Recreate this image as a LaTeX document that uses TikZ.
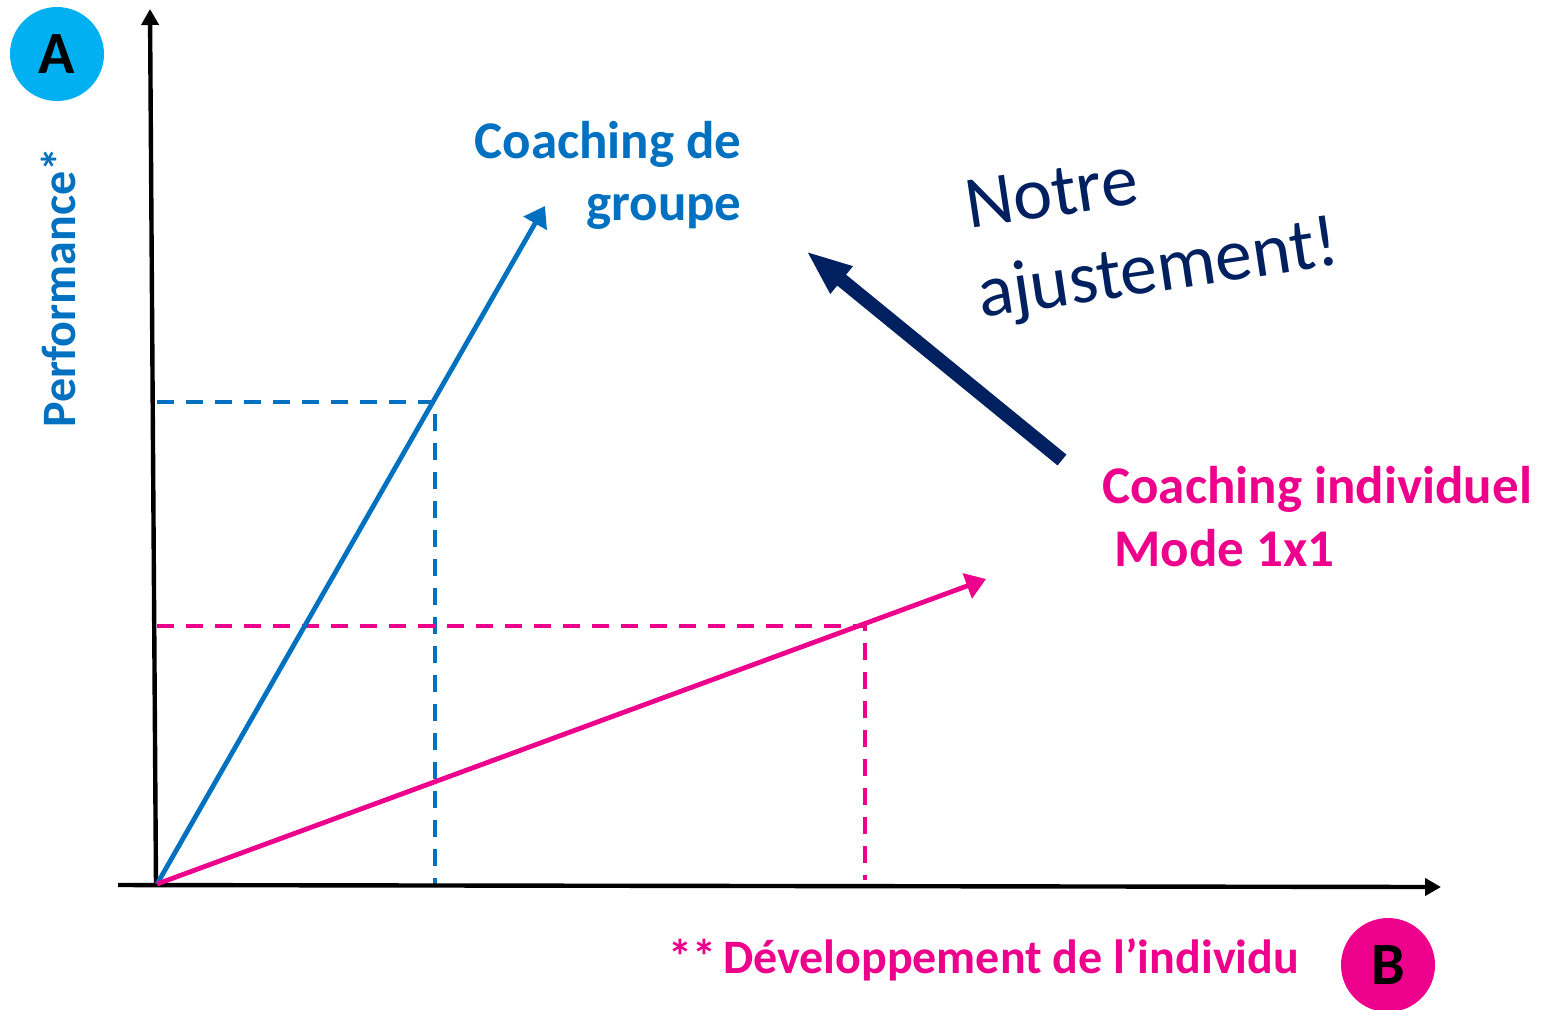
\documentclass[tikz,border=0pt]{standalone}
\usepackage{fontspec}
\setmainfont{Carlito}
\usetikzlibrary{arrows.meta}
\definecolor{cblue}{HTML}{0070C0}
\definecolor{cpink}{HTML}{EC008C}
\definecolor{cnavy}{HTML}{002060}
\definecolor{ccyan}{HTML}{00B0F0}
\tikzset{
  axis/.style={line width=2.2pt, black, -{Triangle[length=8pt,width=8.5pt]}},
  vec/.style={line width=2.4pt, -{Triangle[length=10pt,width=13pt]}},
  guide/.style={line width=1.7pt, dash pattern=on 8.5pt off 6pt},
  badge/.style={circle, minimum size=47pt, inner sep=0pt, font=\fontsize{30}{36}\selectfont\bfseries},
  lbl/.style={inner sep=0pt, font=\fontsize{26.5}{32}\selectfont\bfseries},
  notre/.style={inner sep=0pt, cnavy, anchor=base west, rotate=8.5, font=\fontsize{37}{44}\selectfont},
}
\begin{document}
\begin{tikzpicture}[x=0.5pt,y=-0.5pt]
\useasboundingbox (0,0) rectangle (1545,1009);
% coordinates
\coordinate (O) at (157,884);
\coordinate (ybot) at (156,885);
\coordinate (ytop) at (150,9);
\coordinate (xl) at (118,885);
\coordinate (xr) at (1441,887);
\coordinate (bt) at (545,206);
\coordinate (pt) at (986,579);
\coordinate (b1) at (157,402);
\coordinate (b2) at (435,402);
\coordinate (b3) at (435,885);
\coordinate (p1) at (157,626);
\coordinate (p2) at (865,626);
\coordinate (p3) at (865,880);
\coordinate (ns) at (1062,460);
\coordinate (ne) at (806,251);
% dashed guides
\draw[guide, cblue] (b1) -- (b2) -- (b3);
\draw[guide, cpink] (p1) -- (p2) -- (p3);
% axes
\draw[axis] (ybot) -- (ytop);
\draw[axis] (xl) -- (xr);
% vectors
\draw[vec, cblue] (O) -- (bt);
\draw[vec, cpink] (O) -- (pt);
% adjustment arrow
\draw[line width=7pt, cnavy, -{Triangle[length=23pt,width=16pt]}] (ns) -- (ne);
% badges
\node[badge, fill=ccyan] (A) at (57,54) {A};
\node[badge, fill=cpink] (B) at (1388,965) {B};
% labels
\node[lbl, cblue, anchor=base east] (cg1) at (742,158) {Coaching de};
\node[lbl, cblue, anchor=base east] (cg2) at (742,220) {groupe};
\node[lbl, cpink, anchor=base west] (ci1) at (1102,503) {Coaching individuel};
\node[lbl, cpink, anchor=base west] (ci2) at (1114,566) {Mode 1x1};
\node[inner sep=0pt, cpink, anchor=base west, font=\fontsize{24}{28}\selectfont\bfseries] (dev) at (668,973) {**\kern-2pt\ Développement de l’individu};
\node[inner sep=0pt, cblue, anchor=base west, rotate=90, font=\fontsize{24}{28}\selectfont\bfseries] (perf) at (75,428) {Performance*};
\node[notre] (n1) at (969,229) {Notre};
\node[notre] (n2) at (981,318) {ajustement!};
\end{tikzpicture}
\end{document}
